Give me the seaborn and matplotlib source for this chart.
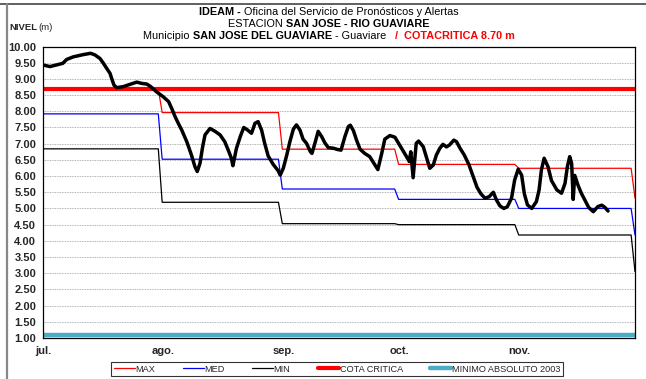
import matplotlib
matplotlib.use("Agg")
import matplotlib.pyplot as plt
from matplotlib.lines import Line2D
from matplotlib import font_manager
import numpy as np
import pandas as pd
import seaborn as sns

# Nivel observado: día contado desde el 1 de julio y nivel en metros
dia = [0, 1.8, 3.5, 5.1, 6.1, 7.8, 10.4, 12.3, 13.4, 14.7, 15.6, 16.4, 17.3, 17.7,
       18.3, 19.0, 20.7, 22.4, 24.2, 25.5, 26.8, 27.8, 29.3, 31.0, 32.4, 33.2, 34.1,
       34.9, 35.8, 37.1, 38.3, 39.2, 39.8, 40.5, 41.2, 41.8, 43.1, 44.4, 45.7, 46.9,
       47.8, 48.6, 49.0, 49.9, 50.9, 51.8, 52.8, 53.8, 54.7, 55.5, 56.4, 57.2, 58.1,
       59.4, 60.7, 61.2, 62.0, 62.9, 63.7, 64.6, 65.4, 66.3, 67.1, 68.0, 69.0, 69.4,
       70.2, 71.0, 71.9, 72.7, 73.6, 74.9, 76.0, 76.9, 77.9, 78.8, 79.3, 80.1, 80.9,
       81.8, 83.0, 84.3, 85.4, 86.4, 87.4, 88.2, 89.5, 90.8, 91.8, 92.8, 93.8, 94.5,
       94.9, 95.5, 96.3, 96.9, 98.1, 99.0, 99.8, 100.7, 101.5, 102.4, 103.2, 104.1,
       104.9, 106.0, 106.7, 107.6, 108.7, 109.9, 111.0, 112.0, 113.0, 114.0, 115.1,
       116.2, 117.0, 117.9, 118.9, 119.8, 120.9, 121.7, 122.6, 123.5, 124.2, 125.0,
       126.1, 127.3, 128.0, 128.6, 129.3, 130.3, 131.2, 132.6, 133.8, 134.7, 135.3,
       135.9, 136.4, 136.8, 137.2, 138.1, 138.9, 139.8, 140.8, 142.0, 143.2, 144.2,
       145.0, 145.8]
nivel = [9.43, 9.38, 9.43, 9.48, 9.60, 9.68, 9.75, 9.79, 9.74, 9.63, 9.48, 9.33, 9.17, 9.02,
         8.81, 8.73, 8.76, 8.83, 8.90, 8.86, 8.84, 8.76, 8.60, 8.45, 8.30, 8.09, 7.83,
         7.63, 7.42, 7.06, 6.65, 6.29, 6.14, 6.39, 6.91, 7.27, 7.47, 7.38, 7.27, 7.06,
         6.80, 6.55, 6.32, 6.85, 7.22, 7.50, 7.42, 7.32, 7.63, 7.68, 7.42, 7.01, 6.62,
         6.36, 6.16, 6.03, 6.24, 6.65, 7.06, 7.45, 7.58, 7.42, 7.14, 7.01, 6.75, 6.70,
         7.03, 7.38, 7.22, 7.03, 6.88, 6.86, 6.82, 6.80, 7.22, 7.53, 7.57, 7.40, 7.11,
         6.83, 6.70, 6.60, 6.39, 6.20, 6.70, 7.14, 7.25, 7.20, 7.00, 6.80, 6.60, 6.45,
         6.75, 5.95, 7.01, 7.08, 6.91, 6.55, 6.24, 6.34, 6.65, 6.86, 6.98, 6.90,
         6.96, 7.11, 7.06, 6.86, 6.65, 6.35, 5.98, 5.65, 5.45, 5.32, 5.36,
         5.50, 5.26, 5.08, 5.00, 5.05, 5.32, 5.88, 6.21, 6.03, 5.45, 5.11,
         5.00, 5.21, 5.57, 6.19, 6.55, 6.29, 5.86, 5.57, 5.47, 5.78, 6.29,
         6.60, 6.40, 5.28, 6.02, 5.70, 5.47, 5.26, 5.03, 4.90, 5.06, 5.10,
         5.03, 4.92]

# Referencias mensuales (jul..nov y primer día de diciembre)
inicio_mes = [0, 31, 62, 92, 123, 153]
meses = ["jul.", "ago.", "sep.", "oct.", "nov."]
nivel_max = [8.68, 7.96, 6.83, 6.36, 6.24, 5.32]
nivel_med = [7.92, 6.52, 5.60, 5.28, 5.00, 4.18]
nivel_min = [6.84, 5.19, 4.53, 4.50, 4.18, 3.05]
cota_critica = 8.70
minimo_absoluto = 1.09

sns.set_style("white")
disponibles = {f.name for f in font_manager.fontManager.ttflist}
familia = [f for f in ["Liberation Sans Narrow", "Liberation Sans", "DejaVu Sans"] if f in disponibles]
plt.rcParams["font.family"] = familia

W, H = 646, 379
fig = plt.figure(figsize=(W / 100, H / 100), dpi=100)
ax = fig.add_axes([43 / W, 1 - 338 / H, (635 - 43) / W, (338 - 46.5) / H])

fin_x = inicio_mes[-1] - 0.25


def escalonada(valores):
    xs, ys = [], []
    for i in range(len(meses)):
        xs += [inicio_mes[i] - 0.25, inicio_mes[i + 1] - 1.25]
        ys += [valores[i], valores[i]]
    xs.append(fin_x)
    ys.append(valores[-1])
    return pd.DataFrame({"dia": xs, "nivel": ys})


linea = dict(estimator=None, sort=False, ax=ax)
sns.lineplot(data=pd.DataFrame({"dia": [0, fin_x], "nivel": [minimo_absoluto] * 2}),
             x="dia", y="nivel", color="#4BACC6", lw=3.2, label="MINIMO ABSOLUTO 2003", **linea)
sns.lineplot(data=escalonada(nivel_min), x="dia", y="nivel", color="black", lw=0.9,
             label="MIN", **linea)
sns.lineplot(data=escalonada(nivel_med), x="dia", y="nivel", color="#0000FF", lw=0.9,
             label="MED", **linea)
sns.lineplot(data=pd.DataFrame({"dia": [0, fin_x], "nivel": [cota_critica] * 2}),
             x="dia", y="nivel", color="#FF0000", lw=3.0, label="COTA CRITICA", **linea)
sns.lineplot(data=escalonada(nivel_max), x="dia", y="nivel", color="#FF0000", lw=0.9,
             label="MAX", **linea)
sns.lineplot(data=pd.DataFrame({"dia": dia, "nivel": nivel}), x="dia", y="nivel",
             color="black", lw=2.5, label="_nivel", **linea)

ax.set_xlim(0, fin_x)
ax.set_ylim(1.0, 10.0)
ax.set_yticks(np.arange(1.0, 10.01, 0.5))
ax.set_yticklabels([f"{v:.2f}" for v in np.arange(1.0, 10.01, 0.5)],
                   fontsize=8, fontweight="bold")
ax.set_xticks(inicio_mes[:-1])
ax.set_xticklabels(meses, fontsize=8, fontweight="bold")
ax.tick_params(axis="both", direction="out", length=3, width=0.8, color="black", pad=2)
ax.tick_params(axis="x", pad=3)
ax.set_xlabel("")
ax.set_ylabel("")
ax.yaxis.grid(True, color="#9a9a9a", linestyle=(0, (1, 1)), lw=0.6)
ax.xaxis.grid(False)
for s in ax.spines.values():
    s.set_color("black")
    s.set_linewidth(0.9)

# Leyenda
handles, labels = ax.get_legend_handles_labels()
orden = ["MAX", "MED", "MIN", "COTA CRITICA", "MINIMO ABSOLUTO 2003"]
mapa = dict(zip(labels, handles))
ax.get_legend().remove()
leg = fig.legend([mapa[k] for k in orden], orden, loc="center",
                 bbox_to_anchor=(337 / W, 1 - 369 / H), ncol=5, fontsize=6.6,
                 frameon=True, fancybox=False, edgecolor="black", handlelength=2.3,
                 handletextpad=0.05, columnspacing=3.0, borderpad=0.3)
leg.get_frame().set_linewidth(0.8)

# Marco exterior
fig.add_artist(Line2D([0, 1], [1 - 4 / H, 1 - 4 / H], color="#444444", lw=1.2))
fig.add_artist(Line2D([7 / W, 7 / W], [0, 1 - 4 / H], color="#888888", lw=1.6))


def texto_mixto(xc, y, partes, size):
    renderer = fig.canvas.get_renderer()
    objs = [fig.text(0, 1 - y / H, s, fontsize=size, fontweight=w, color=c,
                     ha="left", va="center") for s, w, c in partes]
    anchos = [t.get_window_extent(renderer).width for t in objs]
    x = xc - sum(anchos) / 2
    for t, a in zip(objs, anchos):
        t.set_x(x / W)
        x += a


texto_mixto(329, 12, [("IDEAM - ", "bold", "black"),
                      ("Oficina del Servicio de Pronósticos y Alertas", "normal", "black")], 7.8)
texto_mixto(329, 24, [("ESTACION ", "normal", "black"),
                      ("SAN JOSE - RIO GUAVIARE", "bold", "black")], 7.8)
texto_mixto(329, 36, [("Municipio ", "normal", "black"),
                      ("SAN JOSE DEL GUAVIARE", "bold", "black"),
                      (" - Guaviare ", "normal", "black"),
                      ("  /  COTACRITICA 8.70 m", "bold", "#FF0000")], 7.8)

fig.text(9 / W, 1 - 28 / H, "NIVEL", fontsize=6.8, fontweight="bold", ha="left", va="center")
fig.text(38 / W, 1 - 28 / H, "(m)", fontsize=6.8, ha="left", va="center")

fig.savefig("out.png", dpi=100)
